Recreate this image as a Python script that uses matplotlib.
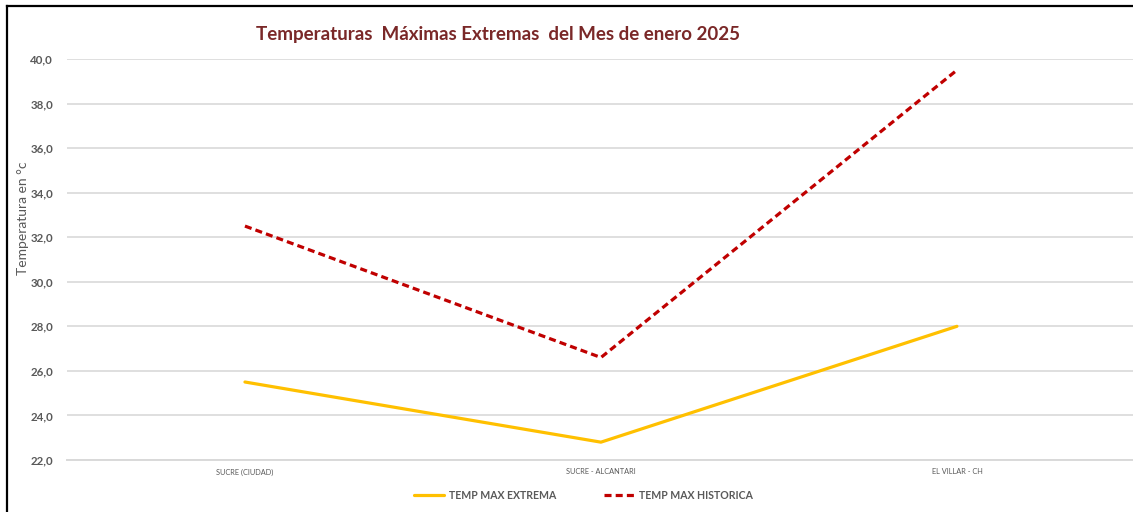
import matplotlib

matplotlib.use("Agg")
import matplotlib.pyplot as plt
from matplotlib.lines import Line2D
from matplotlib.ticker import FuncFormatter

plt.rcParams["font.family"] = ["Lato", "DejaVu Sans"]

# --- data ------------------------------------------------------------
stations = ["SUCRE (CIUDAD)", "SUCRE - ALCANTARI", "EL VILLAR - CH"]
temp_max_extrema = [25.5, 22.8, 28.0]
temp_max_historica = [32.5, 26.6, 39.5]
y_ticks = [22, 24, 26, 28, 30, 32, 34, 36, 38, 40]

TITLE_COL = "#7A2828"
TEXT_COL = "#595959"
GRID_COL = "#D9D9D9"
YELLOW = "#FFC000"
RED = "#C00000"

fig = plt.figure(figsize=(11.33, 5.12), dpi=100, facecolor="white")
ax = fig.add_axes([0.0591, 0.1016, 0.9426, 0.7832])

x = range(len(stations))
ax.plot(x, temp_max_extrema, color=YELLOW, lw=2.3, solid_capstyle="round",
        label="TEMP MAX EXTREMA", zorder=3)
ax.plot(x, temp_max_historica, color=RED, lw=2.3, ls=(0, (2.2, 1.3)),
        label="TEMP MAX HISTORICA", zorder=4)

ax.set_xlim(-0.5, 2.5)
ax.set_ylim(22, 40)
ax.set_yticks(y_ticks)
ax.yaxis.set_major_formatter(
    FuncFormatter(lambda v, _: f"{v:.1f}".replace(".", ",")))
ax.set_xticks(list(x))
ax.set_xticklabels(stations)

ax.grid(axis="y", color=GRID_COL, lw=1.2)
ax.set_axisbelow(True)
for side in ("top", "right", "left"):
    ax.spines[side].set_visible(False)
ax.spines["bottom"].set_color(GRID_COL)
ax.spines["bottom"].set_linewidth(1.4)
ax.tick_params(axis="both", length=0)
ax.tick_params(axis="y", pad=10, labelsize=8.3, labelcolor=TEXT_COL)
ax.tick_params(axis="x", pad=6, labelsize=5.3, labelcolor=TEXT_COL)
for lab in ax.get_yticklabels():
    lab.set_fontweight("bold")

fig.text(0.0205, 0.573, "Temperatura en °c", rotation=90, ha="center",
         va="center", fontsize=10, color=TEXT_COL)

fig.text(0.4395, 0.932, "Temperaturas  Máximas Extremas  del Mes de enero 2025",
         ha="center", va="center", fontsize=13.5, fontweight="bold",
         color=TITLE_COL)

leg = ax.legend(loc="center", bbox_to_anchor=(0.515, 0.032),
                bbox_transform=fig.transFigure, ncol=2, frameon=False,
                handlelength=2.9, handletextpad=0.4, columnspacing=4.6,
                prop={"size": 7.6, "weight": "bold"})
for text in leg.get_texts():
    text.set_color(TEXT_COL)

# outer chart frame (left and top edges only visible)
fig.add_artist(Line2D([0.0062, 0.0062], [0.0, 0.988], color="black", lw=1.6,
                      transform=fig.transFigure))
fig.add_artist(Line2D([0.0062, 1.0], [0.988, 0.988], color="black", lw=1.6,
                      transform=fig.transFigure))

fig.savefig("out.png", dpi=100, facecolor="white")
